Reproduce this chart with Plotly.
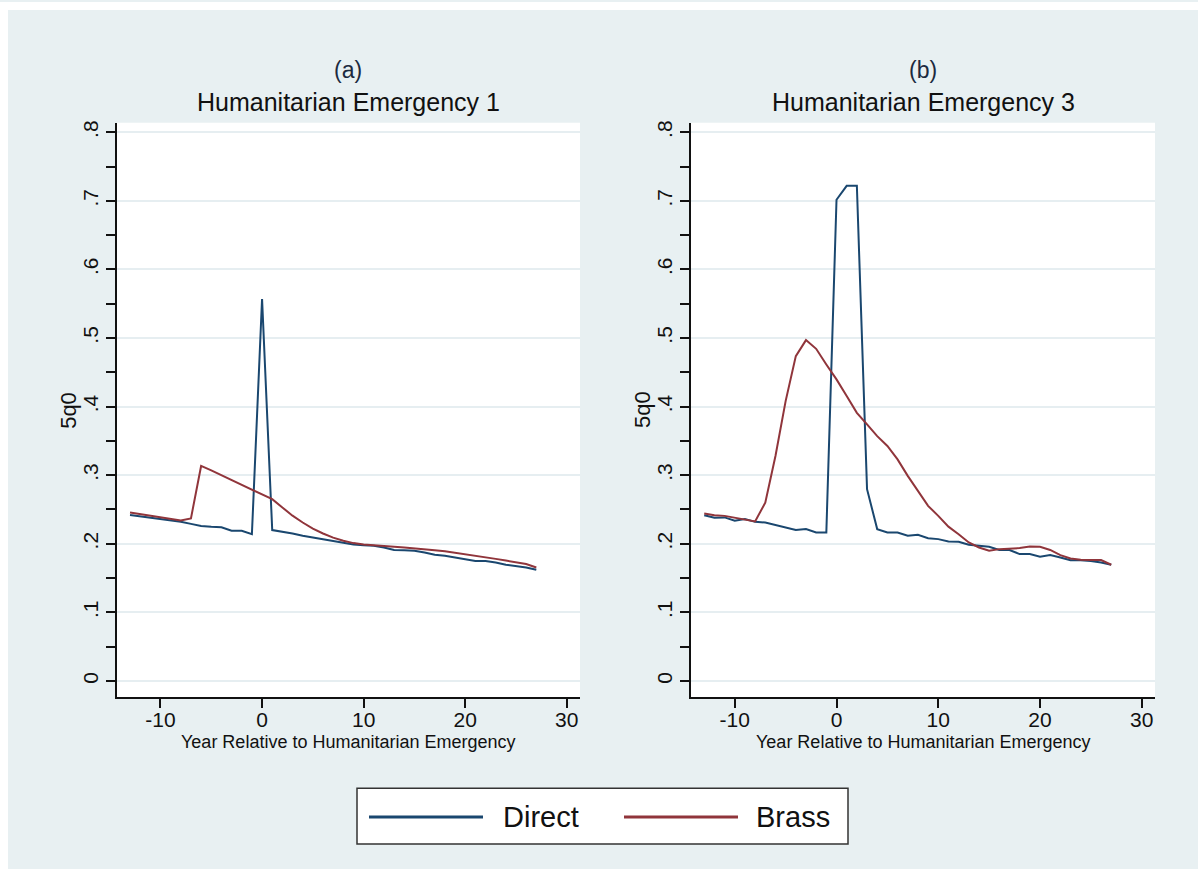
import plotly.graph_objects as go

# ---------------- data ----------------
years = list(range(-13, 28))

direct_1 = [0.242, 0.240, 0.2385, 0.237, 0.2345, 0.232, 0.229, 0.226, 0.2247, 0.224, 0.219, 0.219, 0.214,
            0.557,
            0.220, 0.218, 0.215, 0.2117, 0.209, 0.2068, 0.2044, 0.202, 0.199, 0.198, 0.197, 0.1946, 0.191,
            0.1906, 0.190, 0.1874, 0.184, 0.1825, 0.180, 0.1767, 0.175, 0.175, 0.1728, 0.1694, 0.167, 0.1655, 0.162]
brass_1 = [0.2456, 0.2435, 0.241, 0.239, 0.2365, 0.234, 0.237, 0.3135, 0.307, 0.300, 0.293, 0.286, 0.279,
           0.271,
           0.265, 0.253, 0.241, 0.231, 0.222, 0.215, 0.209, 0.2044, 0.201, 0.199, 0.1975, 0.1965, 0.1955,
           0.1945, 0.1935, 0.192, 0.1905, 0.189, 0.187, 0.185, 0.183, 0.1805, 0.178, 0.1755, 0.173, 0.1705, 0.1655]

direct_3 = [0.2417, 0.238, 0.2385, 0.2335, 0.236, 0.232, 0.231, 0.227, 0.2237, 0.220, 0.2214, 0.2165, 0.2165,
            0.7017,
            0.722, 0.722, 0.2796, 0.2214, 0.2165, 0.2165, 0.2117, 0.213, 0.208, 0.2068, 0.2034, 0.203, 0.1985,
            0.197, 0.1956, 0.191, 0.191, 0.185, 0.185, 0.181, 0.1835, 0.180, 0.176, 0.176, 0.175, 0.1728, 0.1694]
brass_3 = [0.244, 0.2417, 0.2407, 0.238, 0.236, 0.2325, 0.260, 0.328, 0.408, 0.4737, 0.497, 0.4843, 0.4615,
           0.4397,
           0.4154, 0.391, 0.374, 0.357, 0.3426, 0.323, 0.299, 0.277, 0.2553, 0.2407, 0.225, 0.214, 0.202,
           0.1946, 0.190, 0.1922, 0.193, 0.1937, 0.196, 0.1956, 0.191, 0.1835, 0.1786, 0.1767, 0.1762, 0.1762, 0.1694]

panel_letters = ["(a)", "(b)"]
panel_titles = ["Humanitarian Emergency 1", "Humanitarian Emergency 3"]
series_names = ["Direct", "Brass"]
x_title = "Year Relative to Humanitarian Emergency"
y_title = "5q0"
x_ticks = [-10, 0, 10, 20, 30]
x_ticktext = ["-10", "0", "10", "20", "30"]
y_ticks = [0, 0.1, 0.2, 0.3, 0.4, 0.5, 0.6, 0.7, 0.8]
y_ticktext = ["0", ".1", ".2", ".3", ".4", ".5", ".6", ".7", ".8"]

# ---------------- style ----------------
W, H = 1198, 869
BG = "#e8f0f2"
GRID = "#e6eef1"
NAVY = "#1a476f"
MAROON = "#90353b"
FONT = "Liberation Sans, Arial, sans-serif"


def px(x):
    return x / W


def py(y):
    return 1 - y / H


plot_top, plot_bot = 121, 697
panels = [(116.8, 580.0), (691.0, 1155.0)]

fig = go.Figure()

data = [(direct_1, brass_1), (direct_3, brass_3)]
for i, (d, b) in enumerate(data):
    xa = "x" if i == 0 else "x2"
    ya = "y" if i == 0 else "y2"
    fig.add_trace(go.Scatter(x=years, y=d, mode="lines", name=series_names[0],
                             line=dict(color=NAVY, width=2), xaxis=xa, yaxis=ya, showlegend=False))
    fig.add_trace(go.Scatter(x=years, y=b, mode="lines", name=series_names[1],
                             line=dict(color=MAROON, width=2), xaxis=xa, yaxis=ya, showlegend=False))

common_x = dict(range=[-14.3, 31.3], tickvals=x_ticks, ticktext=x_ticktext, showgrid=False,
                zeroline=False, showline=True, linecolor="#111", linewidth=1.5, ticks="outside",
                ticklen=9, tickwidth=1.5, tickcolor="#111", ticklabelstandoff=-6,
                tickfont=dict(family=FONT, size=21, color="#111"), fixedrange=True)
common_y = dict(range=[-0.024, 0.814], tickvals=y_ticks, ticktext=y_ticktext, showgrid=True,
                gridcolor=GRID, gridwidth=2, zeroline=False, showline=True, linecolor="#111",
                linewidth=1.5, ticks="outside", ticklen=9, tickwidth=1.5, tickcolor="#111",
                tickangle=-90, tickfont=dict(family=FONT, size=21, color="#111"),
                minor=dict(dtick=0.05, tick0=0, ticks="outside", ticklen=9, tickwidth=1.5,
                           tickcolor="#111", showgrid=False),
                fixedrange=True)

ydom = [py(plot_bot), py(plot_top)]
fig.update_layout(
    width=W, height=H, margin=dict(l=0, r=0, t=0, b=0),
    paper_bgcolor=BG, plot_bgcolor="white",
    xaxis=dict(domain=[px(panels[0][0]), px(panels[0][1])], anchor="y", **common_x),
    yaxis=dict(domain=ydom, anchor="x", **common_y),
    xaxis2=dict(domain=[px(panels[1][0]), px(panels[1][1])], anchor="y2", **common_x),
    yaxis2=dict(domain=ydom, anchor="x2", **common_y),
    showlegend=False,
)

shapes = []
# thin white outer border (top and left)
shapes.append(dict(type="rect", xref="paper", yref="paper", x0=0, x1=1, y0=py(8), y1=1,
                   fillcolor="white", line=dict(width=0), layer="below"))
shapes.append(dict(type="rect", xref="paper", yref="paper", x0=0, x1=px(8), y0=0, y1=1,
                   fillcolor="white", line=dict(width=0), layer="below"))

annotations = []
for i, (x0, x1) in enumerate(panels):
    cx = (x0 + x1) / 2
    annotations.append(dict(text=panel_letters[i], x=px(cx), y=py(68), xref="paper", yref="paper",
                            showarrow=False, xanchor="center", yanchor="middle",
                            font=dict(family=FONT, size=23, color="#1c2a3f")))
    annotations.append(dict(text=panel_titles[i], x=px(cx), y=py(100), xref="paper", yref="paper",
                            showarrow=False, xanchor="center", yanchor="middle",
                            font=dict(family=FONT, size=25, color="#111")))
    annotations.append(dict(text=x_title, x=px(cx), y=py(742), xref="paper", yref="paper",
                            showarrow=False, xanchor="center", yanchor="middle",
                            font=dict(family=FONT, size=18, color="#111")))
    annotations.append(dict(text=y_title, x=px(x0 - 49), y=py((plot_top + plot_bot) / 2),
                            xref="paper", yref="paper", showarrow=False, textangle=-90,
                            xanchor="center", yanchor="middle",
                            font=dict(family=FONT, size=22, color="#111")))

# legend box (drawn manually to match the wide line samples)
leg_x0, leg_x1, leg_y0, leg_y1 = 357, 848, 788, 844
leg_cy = 817
shapes.append(dict(type="rect", xref="paper", yref="paper", x0=px(leg_x0), x1=px(leg_x1),
                   y0=py(leg_y1), y1=py(leg_y0), fillcolor="white",
                   line=dict(color="#333", width=1.5)))
legend_items = [(series_names[0], NAVY, 369, 483, 501), (series_names[1], MAROON, 624, 738, 754)]
for name, col, lx0, lx1, tx in legend_items:
    shapes.append(dict(type="line", xref="paper", yref="paper", x0=px(lx0), x1=px(lx1),
                       y0=py(leg_cy), y1=py(leg_cy), line=dict(color=col, width=3)))
    annotations.append(dict(text=name, x=px(tx), y=py(leg_cy), xref="paper", yref="paper",
                            showarrow=False, xanchor="left", yanchor="middle",
                            font=dict(family=FONT, size=29, color="#111")))

fig.update_layout(shapes=shapes, annotations=annotations)
fig.write_html("out.html")
